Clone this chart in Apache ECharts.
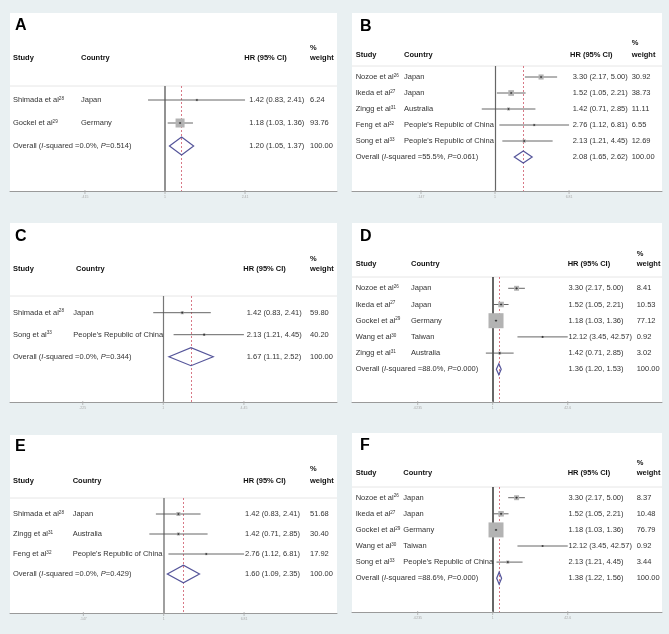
<!DOCTYPE html>
<html><head><meta charset="utf-8">
<script src="https://cdn.jsdelivr.net/npm/echarts@6/dist/echarts.min.js"></script>
<style>html,body{margin:0;padding:0;background:#e9f0f2}#c{width:669px;height:634px}</style>
</head><body><div id="c"></div>
<script>
// ---------------- DATA ----------------
// Panel A
const studyA = ['Shimada et al', 'Gockel et al'];
const refA = ['28', '29'];
const countryA = ['Japan', 'Germany'];
const hrA = [1.42, 1.18];
const loA = [0.83, 1.03];
const hiA = [2.41, 1.36];
const weightA = [6.24, 93.76];
const overallA = [1.20, 1.05, 1.37];
const hetA = ['0.0%', '0.514'];
const ticksA = [0.415, 1, 2.41];

// Panel B
const studyB = ['Nozoe et al', 'Ikeda et al', 'Zingg et al', 'Feng et al', 'Song et al'];
const refB = ['26', '27', '31', '32', '33'];
const countryB = ['Japan', 'Japan', 'Australia', "People's Republic of China", "People's Republic of China"];
const hrB = [3.30, 1.52, 1.42, 2.76, 2.13];
const loB = [2.17, 1.05, 0.71, 1.12, 1.21];
const hiB = [5.00, 2.21, 2.85, 6.81, 4.45];
const weightB = [30.92, 38.73, 11.11, 6.55, 12.69];
const overallB = [2.08, 1.65, 2.62];
const hetB = ['55.5%', '0.061'];
const ticksB = [0.147, 1, 6.81];

// Panel C
const studyC = ['Shimada et al', 'Song et al'];
const refC = ['28', '33'];
const countryC = ['Japan', "People's Republic of China"];
const hrC = [1.42, 2.13];
const loC = [0.83, 1.21];
const hiC = [2.41, 4.45];
const weightC = [59.80, 40.20];
const overallC = [1.67, 1.11, 2.52];
const hetC = ['0.0%', '0.344'];
const ticksC = [0.225, 1, 4.45];

// Panel D
const studyD = ['Nozoe et al', 'Ikeda et al', 'Gockel et al', 'Wang et al', 'Zingg et al'];
const refD = ['26', '27', '29', '30', '31'];
const countryD = ['Japan', 'Japan', 'Germany', 'Taiwan', 'Australia'];
const hrD = [3.30, 1.52, 1.18, 12.12, 1.42];
const loD = [2.17, 1.05, 1.03, 3.45, 0.71];
const hiD = [5.00, 2.21, 1.36, 42.57, 2.85];
const weightD = [8.41, 10.53, 77.12, 0.92, 3.02];
const overallD = [1.36, 1.20, 1.53];
const hetD = ['88.0%', '0.000'];
const ticksD = [0.0235, 1, 42.6];

// Panel E
const studyE = ['Shimada et al', 'Zingg et al', 'Feng et al'];
const refE = ['28', '31', '32'];
const countryE = ['Japan', 'Australia', "People's Republic of China"];
const hrE = [1.42, 1.42, 2.76];
const loE = [0.83, 0.71, 1.12];
const hiE = [2.41, 2.85, 6.81];
const weightE = [51.68, 30.40, 17.92];
const overallE = [1.60, 1.09, 2.35];
const hetE = ['0.0%', '0.429'];
const ticksE = [0.147, 1, 6.81];

// Panel F
const studyF = ['Nozoe et al', 'Ikeda et al', 'Gockel et al', 'Wang et al', 'Song et al'];
const refF = ['26', '27', '29', '30', '33'];
const countryF = ['Japan', 'Japan', 'Germany', 'Taiwan', "People's Republic of China"];
const hrF = [3.30, 1.52, 1.18, 12.12, 2.13];
const loF = [2.17, 1.05, 1.03, 3.45, 1.21];
const hiF = [5.00, 2.21, 1.36, 42.57, 4.45];
const weightF = [8.37, 10.48, 76.79, 0.92, 3.44];
const overallF = [1.38, 1.22, 1.56];
const hetF = ['88.6%', '0.000'];
const ticksF = [0.0235, 1, 42.6];

// ---------------- LAYOUT ----------------
const layouts = {
  A: {box:[10,13,327,178], letter:[15,26], sep:86, row0:100, dy:23, nullX:165, k:91, hdrY:58, pctY:48,
      col:{study:13, countryHdr:81, country:81, hrHdr:244.3, hr:249.3, w:310}, boxK:0.93, diaH:9, nullC:'#777', nullW:1.6},
  B: {box:[352,13,310,178], letter:[360,27], sep:66, row0:77, dy:16, nullX:495, k:38.6, hdrY:55, pctY:43.3,
      col:{study:355.7, countryHdr:404, country:404, hrHdr:570, hr:572.7, w:631.7}, boxK:0.92, diaH:6, nullC:'#666', nullW:1.2},
  C: {box:[10,223,327,179], letter:[15,237], sep:296, row0:312.7, dy:22, nullX:163.3, k:54, hdrY:269, pctY:259.3,
      col:{study:13, countryHdr:76, country:73.3, hrHdr:243.3, hr:246.7, w:310}, boxK:0.4, diaH:9, nullC:'#777', nullW:1.2},
  D: {box:[352,223,310,179], letter:[360,237], sep:277, row0:288.3, dy:16.2, nullX:492.7, k:20, hdrY:264.3, pctY:254.3,
      col:{study:355.7, countryHdr:411, country:411, hrHdr:567.7, hr:568.5, w:636.7}, boxK:1.71, diaH:5.5, nullC:'#333', nullW:1.5},
  E: {box:[10,435,327,178], letter:[15,447], sep:498, row0:514, dy:20, nullX:163.7, k:41.9, hdrY:480.7, pctY:469.3,
      col:{study:13, countryHdr:72.7, country:72.7, hrHdr:243.3, hr:245, w:310}, boxK:0.56, diaH:8.8, nullC:'#888', nullW:1.6},
  F: {box:[352,433,310,179], letter:[360,446], sep:487, row0:497.7, dy:16.1, nullX:492.7, k:20, hdrY:473.3, pctY:462.7,
      col:{study:355.7, countryHdr:403.3, country:403.3, hrHdr:567.7, hr:568.5, w:636.7}, boxK:1.71, diaH:6, nullC:'#333', nullW:1.5}
};

const panels = [
  {key:'A', study:studyA, ref:refA, country:countryA, hr:hrA, lo:loA, hi:hiA, w:weightA, overall:overallA, het:hetA, ticks:ticksA},
  {key:'B', study:studyB, ref:refB, country:countryB, hr:hrB, lo:loB, hi:hiB, w:weightB, overall:overallB, het:hetB, ticks:ticksB},
  {key:'C', study:studyC, ref:refC, country:countryC, hr:hrC, lo:loC, hi:hiC, w:weightC, overall:overallC, het:hetC, ticks:ticksC},
  {key:'D', study:studyD, ref:refD, country:countryD, hr:hrD, lo:loD, hi:hiD, w:weightD, overall:overallD, het:hetD, ticks:ticksD},
  {key:'E', study:studyE, ref:refE, country:countryE, hr:hrE, lo:loE, hi:hiE, w:weightE, overall:overallE, het:hetE, ticks:ticksE},
  {key:'F', study:studyF, ref:refF, country:countryF, hr:hrF, lo:loF, hi:hiF, w:weightF, overall:overallF, het:hetF, ticks:ticksF}
];

const FONT = '"Liberation Sans", Arial, Helvetica, sans-serif';
const FS = 7.5;
const TXT = '#333';
const RICH = {
  s: {fontSize: 4.6, fontFamily: FONT, fill: TXT, verticalAlign: 'top'},
  i: {fontSize: FS, fontFamily: FONT, fill: TXT, fontStyle: 'italic'}
};
function txt(x, y, t) {
  return {type:'text', style:{x:x, y:y, text:t, fontSize:FS, fontFamily:FONT, fill:TXT,
          verticalAlign:'middle', align:'left', rich:RICH}};
}
const f2 = v => v.toFixed(2);
const tickLabel = v => v < 1 ? String(v).replace(/^0/, '') : String(v);

const grids = [], xAxes = [], yAxes = [], series = [], graphics = [];

panels.forEach((P, gi) => {
  const L = layouts[P.key];
  const [bx, by, bw, bh] = L.box;
  const axisY = by + bh;
  const n = P.hr.length;
  const ymin = -(L.row0 - L.sep) / L.dy;
  const ymax = (axisY - L.row0) / L.dy;
  const xmin = Math.exp((bx - L.nullX) / L.k);
  const xmax = Math.exp((bx + bw - L.nullX) / L.k);

  // panel background, separator, letter, headers
  graphics.push({type:'rect', shape:{x:bx, y:by, width:bw, height:bh}, style:{fill:'#fff'}, z:-10});
  graphics.push({type:'line', shape:{x1:bx, y1:L.sep, x2:bx+bw, y2:L.sep}, style:{stroke:'#e6e6e6', lineWidth:1}, z:-9});
  graphics.push({type:'text', x:L.letter[0], y:L.letter[1], style:{text:P.key, fontSize:16, fontWeight:'bold', fontFamily:FONT, fill:'#000', verticalAlign:'middle'}});
  const hdr = (x, y, t) => ({type:'text', x:x, y:y, style:{text:t, fontSize:FS, fontWeight:'bold', fontFamily:FONT, fill:'#111', verticalAlign:'middle'}});
  graphics.push(hdr(L.col.study, L.hdrY, 'Study'));
  graphics.push(hdr(L.col.countryHdr, L.hdrY, 'Country'));
  graphics.push(hdr(L.col.hrHdr, L.hdrY, 'HR (95% CI)'));
  graphics.push(hdr(L.col.w, L.pctY, '%'));
  graphics.push(hdr(L.col.w, L.hdrY, 'weight'));

  grids.push({left:bx, top:L.sep, width:bw, height:axisY - L.sep, containLabel:false});
  xAxes.push({type:'log', gridIndex:gi, min:xmin, max:xmax,
    axisLine:{show:true, onZero:false, lineStyle:{color:'#9a9a9a', width:1}},
    axisTick:{show:false}, axisLabel:{show:false}, splitLine:{show:false}});
  yAxes.push({type:'value', gridIndex:gi, inverse:true, min:ymin, max:ymax, show:false});

  // studies
  const sdata = P.hr.map((v, i) => [v, P.lo[i], P.hi[i], P.w[i], i]);
  series.push({
    type:'custom', xAxisIndex:gi, yAxisIndex:gi, clip:false, silent:true, z:5,
    data:sdata, encode:{x:[0,1,2], y:4},
    renderItem:(params, api) => {
      const i = api.value(4);
      const pC = api.coord([api.value(0), i]);
      const pL = api.coord([api.value(1), i]);
      const pR = api.coord([api.value(2), i]);
      const y = pC[1];
      const s = L.boxK * Math.sqrt(api.value(3));
      const idx = params.dataIndex;
      return {type:'group', children:[
        {type:'line', shape:{x1:pL[0], y1:y, x2:pR[0], y2:y}, style:{stroke:'#555', lineWidth:0.9}},
        {type:'rect', shape:{x:pC[0]-s/2, y:y-s/2, width:s, height:s}, style:{fill:'#b3b3b3'}},
        {type:'polygon', shape:{points:[[pC[0]-1.4,y],[pC[0],y-1.1],[pC[0]+1.4,y],[pC[0],y+1.1]]}, style:{fill:'#333'}},
        txt(L.col.study, y, P.study[idx] + '{s|' + P.ref[idx] + '}'),
        txt(L.col.country, y, P.country[idx]),
        txt(L.col.hr, y, f2(P.hr[idx]) + ' (' + f2(P.lo[idx]) + ', ' + f2(P.hi[idx]) + ')'),
        txt(L.col.w, y, f2(P.w[idx]))
      ]};
    }
  });

  // overall diamond + reference lines
  const o = P.overall;
  series.push({
    type:'custom', xAxisIndex:gi, yAxisIndex:gi, clip:false, silent:true, z:6,
    data:[[o[0], o[1], o[2], n]], encode:{x:[0,1,2], y:3},
    renderItem:(params, api) => {
      const r = api.value(3);
      const pC = api.coord([api.value(0), r]);
      const pL = api.coord([api.value(1), r]);
      const pR = api.coord([api.value(2), r]);
      const y = pC[1], h = L.diaH;
      return {type:'group', children:[
        {type:'polygon', shape:{points:[[pL[0],y],[pC[0],y-h],[pR[0],y],[pC[0],y+h]]},
         style:{fill:'none', stroke:'#55559a', lineWidth:1.2}},
        txt(L.col.study, y, 'Overall ({i|I}-squared =' + P.het[0] + ', {i|P}=' + P.het[1] + ')'),
        txt(L.col.hr, y, f2(o[0]) + ' (' + f2(o[1]) + ', ' + f2(o[2]) + ')'),
        txt(L.col.w, y, '100.00')
      ]};
    },
    markLine:{silent:true, symbol:'none', label:{show:false}, z:3,
      data:[
        {xAxis:1, lineStyle:{color:L.nullC, width:L.nullW, type:'solid'}},
        {xAxis:o[0], lineStyle:{color:'#d46a7a', width:0.9, type:[2,2]}}
      ]}
  });

  // axis ticks
  series.push({
    type:'custom', xAxisIndex:gi, yAxisIndex:gi, clip:false, silent:true, z:4,
    data:P.ticks.map(v => [v, ymax]), encode:{x:0, y:1},
    renderItem:(params, api) => {
      const v = api.value(0);
      const p = api.coord([v, api.value(1)]);
      return {type:'group', children:[
        {type:'line', shape:{x1:p[0], y1:p[1]-1, x2:p[0], y2:p[1]+3}, style:{stroke:'#aaa', lineWidth:0.8}},
        {type:'text', style:{x:p[0], y:p[1]+6.5, text:tickLabel(v), fontSize:3.5, fontFamily:FONT, fill:'#aaa', align:'center', verticalAlign:'middle'}}
      ]};
    }
  });
});

const chart = echarts.init(document.getElementById('c'), null, {renderer:'canvas'});
chart.setOption({
  animation:false,
  backgroundColor:'#e9f0f2',
  graphic:{elements:graphics},
  grid:grids, xAxis:xAxes, yAxis:yAxes, series:series
});
</script></body></html>
